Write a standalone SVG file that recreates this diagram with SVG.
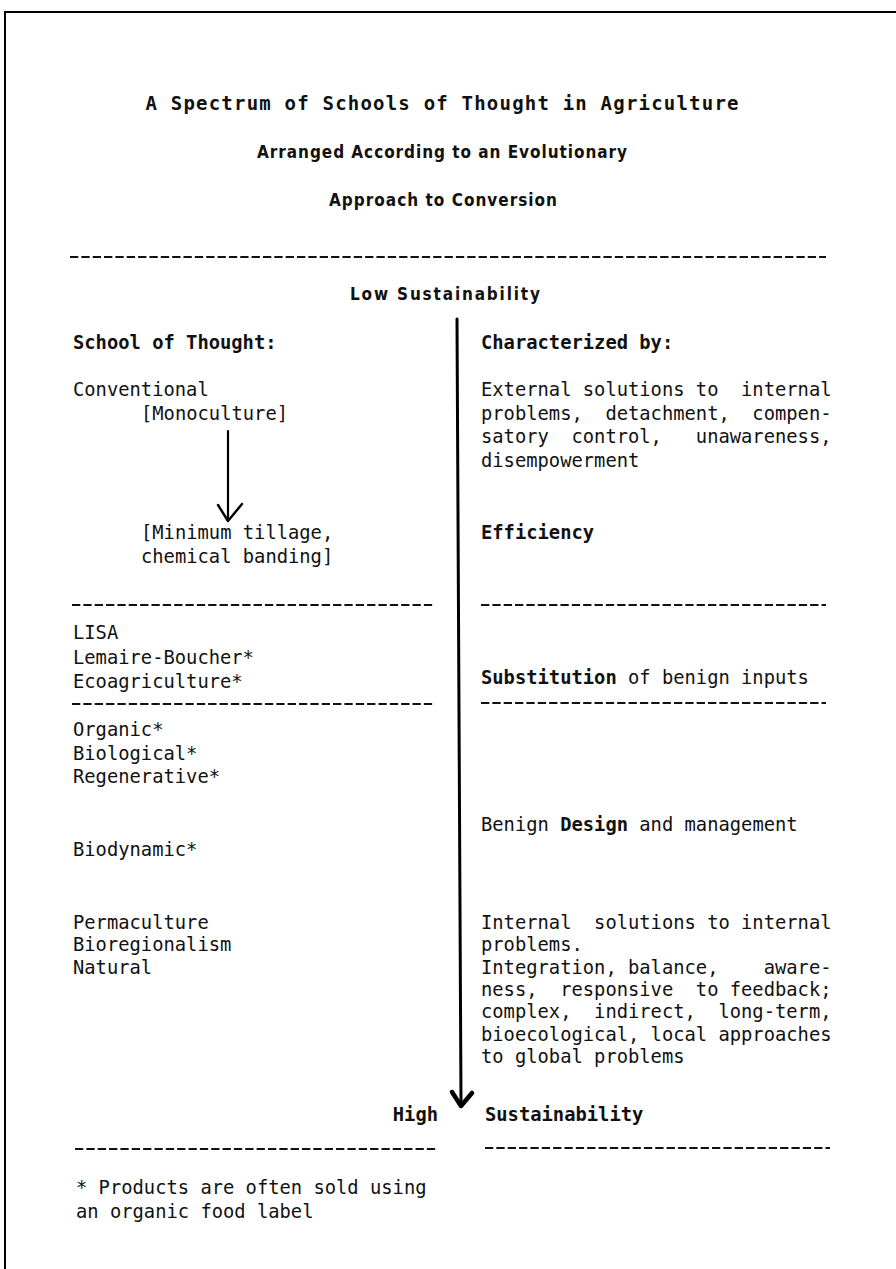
<svg xmlns="http://www.w3.org/2000/svg" width="896" height="1269" viewBox="0 0 896 1269">
<style>
  .t { font-family: "DejaVu Sans Mono", "Liberation Mono", monospace; font-size: 18.8px; fill: #111; white-space: pre; }
  .b { font-weight: bold; }
  .h { font-family: "DejaVu Sans", "Liberation Sans", sans-serif; font-stretch: condensed; font-size: 17px; font-weight: bold; fill: #111; }
  .h1 { font-family: "DejaVu Sans Mono", "Liberation Mono", monospace; font-size: 19px; font-weight: bold; fill: #111; }
  .dash { stroke: #111; stroke-width: 1.8; stroke-dasharray: 8.3 3.05; fill: none; }
  .frame { stroke: #000; stroke-width: 2; fill: none; }
  .conn { stroke: #000; fill: none; stroke-linecap: round; stroke-linejoin: round; }
</style>
<rect width="896" height="1269" fill="#fff"/>
<path class="frame" d="M5 1269 V12 H896"/>

<g id="title">
  <text class="h1" x="442" y="110" text-anchor="middle" textLength="593" lengthAdjust="spacing">A Spectrum of Schools of Thought in Agriculture</text>
  <text class="h" x="442" y="158" text-anchor="middle" textLength="370" lengthAdjust="spacing">Arranged According to an Evolutionary</text>
  <text class="h" x="443" y="206" text-anchor="middle" textLength="228" lengthAdjust="spacing">Approach to Conversion</text>
</g>

<g id="separators">
  <line class="dash" x1="70" y1="257" x2="826" y2="257"/>
  <line class="dash" x1="72" y1="605" x2="433" y2="605"/>
  <line class="dash" x1="481" y1="605" x2="826" y2="605"/>
  <line class="dash" x1="72" y1="704" x2="433" y2="704"/>
  <line class="dash" x1="481" y1="703" x2="826" y2="703"/>
  <line class="dash" x1="75" y1="1149" x2="436" y2="1149"/>
  <line class="dash" x1="485" y1="1148" x2="830" y2="1148"/>
</g>

<g id="low-sustainability">
  <text class="h" x="445" y="300" text-anchor="middle" textLength="190" lengthAdjust="spacing">Low Sustainability</text>
</g>

<g id="school-header"><text class="t b" x="73" y="349">School of Thought:</text></g>
<g id="characterized-header"><text class="t b" x="481" y="349">Characterized by:</text></g>

<g id="conventional">
  <text class="t" x="73" y="396">Conventional</text>
  <text class="t" x="141" y="420">[Monoculture]</text>
</g>
<g id="minimum-tillage">
  <text class="t" x="141" y="539">[Minimum tillage,</text>
  <text class="t" x="141" y="563">chemical banding]</text>
</g>

<g id="external-solutions">
  <text class="t" xml:space="preserve" x="481" y="396">External solutions to  internal</text>
  <text class="t" xml:space="preserve" x="481" y="420">problems,  detachment,  compen-</text>
  <text class="t" xml:space="preserve" x="481" y="443">satory  control,   unawareness,</text>
  <text class="t" x="481" y="467">disempowerment</text>
</g>
<g id="efficiency"><text class="t b" x="481" y="539">Efficiency</text></g>

<g id="lisa-group">
  <text class="t" x="73" y="639">LISA</text>
  <text class="t" x="73" y="663.5">Lemaire-Boucher*</text>
  <text class="t" x="73" y="688">Ecoagriculture*</text>
</g>
<g id="substitution"><text class="t" xml:space="preserve" x="481" y="684"><tspan class="b">Substitution</tspan> of benign inputs</text></g>

<g id="organic-group">
  <text class="t" x="73" y="736">Organic*</text>
  <text class="t" x="73" y="759.5">Biological*</text>
  <text class="t" x="73" y="783">Regenerative*</text>
</g>
<g id="benign-design"><text class="t" xml:space="preserve" x="481" y="831">Benign <tspan class="b">Design</tspan> and management</text></g>
<g id="biodynamic"><text class="t" x="73" y="856">Biodynamic*</text></g>

<g id="permaculture-group">
  <text class="t" x="73" y="929">Permaculture</text>
  <text class="t" x="73" y="951">Bioregionalism</text>
  <text class="t" x="73" y="973.5">Natural</text>
</g>
<g id="internal-solutions">
  <text class="t" xml:space="preserve" x="481" y="929">Internal  solutions to internal</text>
  <text class="t" x="481" y="951">problems.</text>
  <text class="t" xml:space="preserve" x="481" y="973.5">Integration, balance,    aware-</text>
  <text class="t" xml:space="preserve" x="481" y="996">ness,  responsive  to feedback;</text>
  <text class="t" xml:space="preserve" x="481" y="1018">complex,  indirect,  long-term,</text>
  <text class="t" x="481" y="1040.5">bioecological, local approaches</text>
  <text class="t" x="481" y="1063">to global problems</text>
</g>

<g id="high-sustainability">
  <text class="t b" x="438" y="1121" text-anchor="end">High</text>
  <text class="t b" x="485" y="1121">Sustainability</text>
</g>

<g id="footnote">
  <text class="t" x="76" y="1194">* Products are often sold using</text>
  <text class="t" x="76" y="1218">an organic food label</text>
</g>

<g id="connectors">
  <line class="conn" x1="457" y1="319" x2="461" y2="1103" stroke-width="3"/>
  <path class="conn" d="M452 1092 L461 1106 L472 1093" stroke-width="4.5"/>
  <line class="conn" x1="228" y1="431" x2="228" y2="520" stroke-width="2.2"/>
  <path class="conn" d="M218 505 L228 521 L242 504" stroke-width="2.4"/>
</g>
</svg>
